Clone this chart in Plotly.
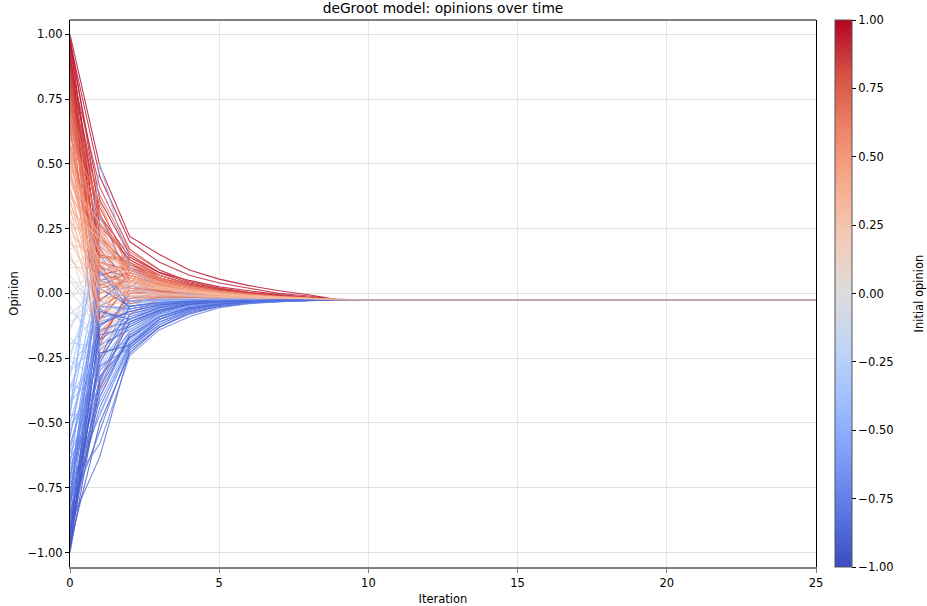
import plotly.graph_objects as go
from plotly.colors import sample_colorscale

iterations = list(range(26))
consensus = -0.025

# opinion of each agent for iterations 0..8 (afterwards all sit at the consensus value)
opinions = [
    [1.00, 0.49, 0.22, 0.15, 0.09, 0.055, 0.03, 0.01, -0.005],
    [0.97, 0.45, 0.20, 0.12, 0.07, 0.04, 0.02, 0.0, -0.01],
    [0.99, 0.30, 0.14, 0.08, 0.05, 0.025, 0.01, -0.005, -0.015],
    [0.95, 0.22, 0.10, 0.06, 0.03, 0.015, 0.0, -0.01, -0.017],
    [0.93, 0.05, 0.08, 0.04, 0.02, 0.005, -0.005, -0.013, -0.019],
    [0.91, 0.15, 0.12, 0.05, 0.025, 0.01, -0.003, -0.012, -0.018],
    [0.89, -0.10, 0.03, 0.01, 0.0, -0.008, -0.014, -0.018, -0.021],
    [0.87, 0.33, 0.11, 0.07, 0.035, 0.015, 0.0, -0.01, -0.017],
    [0.85, 0.10, 0.06, 0.03, 0.01, 0.0, -0.01, -0.016, -0.02],
    [0.83, -0.25, -0.02, 0.0, -0.008, -0.013, -0.017, -0.02, -0.022],
    [0.81, 0.20, 0.09, 0.05, 0.02, 0.005, -0.006, -0.014, -0.019],
    [0.79, 0.02, 0.05, 0.02, 0.005, -0.005, -0.012, -0.017, -0.021],
    [0.77, 0.27, 0.13, 0.06, 0.03, 0.012, 0.0, -0.01, -0.017],
    [0.75, -0.05, 0.01, 0.01, -0.002, -0.01, -0.015, -0.019, -0.022],
    [0.73, 0.12, 0.07, 0.03, 0.015, 0.002, -0.008, -0.015, -0.02],
    [0.71, 0.38, 0.16, 0.09, 0.045, 0.02, 0.004, -0.008, -0.016],
    [0.69, 0.08, 0.04, 0.02, 0.005, -0.005, -0.012, -0.017, -0.021],
    [0.67, -0.37, -0.08, -0.02, -0.02, -0.02, -0.022, -0.023, -0.024],
    [0.65, 0.18, 0.10, 0.04, 0.02, 0.005, -0.006, -0.014, -0.019],
    [0.63, 0.00, 0.06, 0.03, 0.01, -0.002, -0.01, -0.016, -0.02],
    [0.61, 0.25, 0.09, 0.04, 0.02, 0.004, -0.007, -0.014, -0.019],
    [0.59, 0.05, 0.02, 0.01, 0.0, -0.008, -0.013, -0.018, -0.021],
    [0.57, 0.14, 0.12, 0.06, 0.028, 0.01, -0.003, -0.012, -0.018],
    [0.55, -0.15, -0.03, -0.01, -0.012, -0.016, -0.019, -0.021, -0.023],
    [0.53, 0.30, 0.10, 0.05, 0.025, 0.008, -0.004, -0.013, -0.018],
    [0.51, 0.07, 0.04, 0.02, 0.006, -0.004, -0.011, -0.016, -0.02],
    [0.49, 0.21, 0.08, 0.035, 0.015, 0.0, -0.009, -0.015, -0.02],
    [0.47, -0.02, 0.00, 0.0, -0.006, -0.012, -0.016, -0.02, -0.022],
    [0.45, 0.11, 0.05, 0.025, 0.008, -0.003, -0.01, -0.016, -0.02],
    [0.43, 0.16, 0.09, 0.045, 0.02, 0.004, -0.006, -0.014, -0.019],
    [0.41, -0.08, 0.02, 0.005, -0.004, -0.011, -0.016, -0.019, -0.022],
    [0.39, 0.04, 0.03, 0.015, 0.003, -0.006, -0.012, -0.017, -0.021],
    [0.37, 0.23, 0.07, 0.03, 0.012, 0.0, -0.009, -0.015, -0.02],
    [0.35, 0.09, -0.01, -0.005, -0.01, -0.015, -0.018, -0.021, -0.023],
    [0.33, -0.12, 0.04, 0.02, 0.004, -0.006, -0.012, -0.017, -0.021],
    [0.31, 0.13, 0.06, 0.025, 0.01, -0.002, -0.01, -0.016, -0.02],
    [0.29, 0.01, 0.01, 0.0, -0.007, -0.013, -0.017, -0.02, -0.022],
    [0.27, 0.19, 0.02, 0.01, 0.0, -0.008, -0.013, -0.018, -0.021],
    [0.25, 0.06, 0.03, 0.012, 0.0, -0.008, -0.014, -0.018, -0.021],
    [0.22, -0.06, -0.02, -0.01, -0.013, -0.017, -0.02, -0.022, -0.023],
    [0.19, 0.15, 0.05, 0.02, 0.006, -0.005, -0.012, -0.017, -0.021],
    [0.16, -0.18, -0.06, -0.035, -0.03, -0.028, -0.027, -0.026, -0.025],
    [0.13, 0.03, 0.0, -0.005, -0.01, -0.015, -0.018, -0.021, -0.023],
    [0.10, 0.10, 0.04, 0.015, 0.002, -0.007, -0.013, -0.018, -0.021],
    [0.07, -0.09, -0.04, -0.025, -0.024, -0.025, -0.025, -0.025, -0.025],
    [0.04, 0.05, 0.01, -0.002, -0.01, -0.016, -0.019, -0.022, -0.023],
    [0.01, -0.14, -0.07, -0.04, -0.033, -0.03, -0.028, -0.027, -0.026],
    [-0.02, 0.08, 0.0, -0.008, -0.013, -0.017, -0.02, -0.022, -0.023],
    [-0.05, -0.22, -0.05, -0.03, -0.028, -0.027, -0.026, -0.026, -0.025],
    [-0.08, 0.02, -0.03, -0.02, -0.02, -0.022, -0.023, -0.024, -0.025],
    [-0.11, -0.04, -0.08, -0.045, -0.035, -0.031, -0.028, -0.027, -0.026],
    [-0.14, 0.12, -0.01, -0.012, -0.016, -0.019, -0.021, -0.023, -0.024],
    [-0.17, -0.28, -0.10, -0.06, -0.042, -0.034, -0.03, -0.028, -0.026],
    [-0.20, -0.07, -0.04, -0.03, -0.027, -0.026, -0.026, -0.025, -0.025],
    [-0.23, 0.06, -0.02, -0.018, -0.02, -0.022, -0.023, -0.024, -0.025],
    [-0.26, -0.33, -0.14, -0.08, -0.05, -0.038, -0.032, -0.029, -0.027],
    [-0.29, -0.12, -0.06, -0.04, -0.032, -0.029, -0.027, -0.026, -0.025],
    [-0.32, 0.20, 0.02, -0.005, -0.014, -0.019, -0.022, -0.024, -0.025],
    [-0.35, -0.40, -0.18, -0.10, -0.06, -0.042, -0.034, -0.03, -0.027],
    [-0.38, -0.03, -0.07, -0.045, -0.034, -0.03, -0.028, -0.026, -0.025],
    [-0.41, -0.20, -0.11, -0.06, -0.04, -0.033, -0.029, -0.027, -0.026],
    [-0.44, 0.30, 0.05, 0.0, -0.012, -0.018, -0.021, -0.023, -0.024],
    [-0.47, -0.46, -0.21, -0.12, -0.07, -0.047, -0.036, -0.031, -0.028],
    [-0.50, -0.10, -0.05, -0.035, -0.03, -0.028, -0.027, -0.026, -0.025],
    [-0.53, -0.26, -0.13, -0.07, -0.045, -0.035, -0.03, -0.027, -0.026],
    [-0.56, 0.08, -0.03, -0.025, -0.024, -0.025, -0.025, -0.025, -0.025],
    [-0.59, -0.15, -0.09, -0.05, -0.037, -0.031, -0.028, -0.027, -0.026],
    [-0.62, -0.35, -0.16, -0.09, -0.055, -0.04, -0.032, -0.028, -0.026],
    [-0.48, 0.50, 0.10, 0.02, -0.005, -0.015, -0.02, -0.023, -0.024],
    [-0.68, -0.22, -0.12, -0.065, -0.042, -0.034, -0.029, -0.027, -0.026],
    [-0.71, -0.05, -0.06, -0.04, -0.032, -0.029, -0.027, -0.026, -0.025],
    [-0.73, -0.30, -0.15, -0.08, -0.05, -0.037, -0.031, -0.028, -0.026],
    [-0.75, -0.58, -0.24, -0.14, -0.09, -0.055, -0.04, -0.032, -0.028],
    [-0.77, -0.18, -0.10, -0.055, -0.038, -0.031, -0.028, -0.026, -0.025],
    [-0.79, 0.15, -0.01, -0.02, -0.022, -0.024, -0.025, -0.025, -0.025],
    [-0.81, -0.38, -0.17, -0.09, -0.055, -0.04, -0.032, -0.028, -0.026],
    [-0.83, -0.09, -0.08, -0.05, -0.035, -0.03, -0.028, -0.026, -0.025],
    [-0.85, -0.44, -0.20, -0.11, -0.065, -0.045, -0.035, -0.03, -0.027],
    [-0.87, -0.25, -0.09, -0.06, -0.04, -0.033, -0.029, -0.027, -0.026],
    [-0.89, -0.63, -0.22, -0.13, -0.08, -0.05, -0.038, -0.031, -0.027],
    [-0.91, -0.14, -0.11, -0.06, -0.04, -0.032, -0.028, -0.026, -0.025],
    [-0.93, -0.32, -0.19, -0.10, -0.06, -0.042, -0.033, -0.029, -0.026],
    [-0.95, 0.02, -0.05, -0.035, -0.03, -0.028, -0.027, -0.026, -0.025],
    [-0.97, -0.50, -0.23, -0.13, -0.075, -0.05, -0.037, -0.031, -0.027],
    [-0.99, -0.20, -0.14, -0.075, -0.045, -0.035, -0.03, -0.027, -0.026],
    [-1.00, -0.36, -0.17, -0.10, -0.06, -0.042, -0.033, -0.028, -0.026],
    [0.98, 0.12, 0.09, 0.05, 0.025, 0.01, -0.004, -0.012, -0.018],
    [0.96, 0.36, 0.15, 0.08, 0.04, 0.02, 0.003, -0.008, -0.016],
    [0.94, -0.18, 0.00, 0.005, -0.005, -0.012, -0.016, -0.02, -0.022],
    [0.92, 0.26, 0.13, 0.07, 0.035, 0.015, 0.0, -0.01, -0.017],
    [0.90, 0.07, 0.10, 0.05, 0.022, 0.007, -0.005, -0.013, -0.019],
    [0.88, 0.41, 0.17, 0.09, 0.045, 0.02, 0.003, -0.008, -0.016],
    [0.86, 0.17, 0.04, 0.02, 0.008, -0.003, -0.011, -0.016, -0.02],
    [0.84, -0.03, 0.07, 0.035, 0.015, 0.002, -0.008, -0.015, -0.02],
    [0.82, 0.29, 0.12, 0.06, 0.03, 0.012, -0.002, -0.011, -0.017],
    [0.80, 0.11, -0.04, -0.015, -0.015, -0.018, -0.02, -0.022, -0.023],
    [0.78, 0.21, 0.11, 0.055, 0.027, 0.01, -0.003, -0.012, -0.018],
    [0.76, 0.03, 0.08, 0.04, 0.018, 0.004, -0.007, -0.014, -0.019],
    [0.74, 0.31, 0.05, 0.03, 0.012, 0.0, -0.009, -0.015, -0.02],
    [0.72, -0.20, 0.02, 0.01, -0.002, -0.01, -0.015, -0.019, -0.022],
    [0.70, 0.14, 0.14, 0.07, 0.033, 0.013, -0.001, -0.011, -0.017],
    [0.66, 0.24, 0.06, 0.03, 0.012, 0.0, -0.009, -0.015, -0.02],
    [0.64, -0.10, 0.09, 0.045, 0.02, 0.005, -0.006, -0.014, -0.019],
    [0.60, 0.35, 0.08, 0.04, 0.018, 0.003, -0.007, -0.014, -0.019],
    [0.56, 0.09, 0.11, 0.055, 0.025, 0.008, -0.004, -0.013, -0.018],
    [0.52, 0.18, -0.02, -0.008, -0.012, -0.016, -0.019, -0.021, -0.023],
    [0.48, 0.02, 0.06, 0.03, 0.012, 0.0, -0.009, -0.015, -0.02],
    [0.44, 0.27, 0.03, 0.015, 0.003, -0.006, -0.012, -0.017, -0.021],
    [0.40, 0.12, 0.08, 0.04, 0.016, 0.002, -0.008, -0.015, -0.02],
    [0.36, -0.05, 0.05, 0.025, 0.008, -0.003, -0.01, -0.016, -0.02],
    [0.32, 0.21, 0.04, 0.02, 0.005, -0.005, -0.012, -0.017, -0.021],
    [0.28, -0.16, -0.03, -0.015, -0.016, -0.019, -0.021, -0.023, -0.024],
    [0.23, 0.11, 0.02, 0.005, -0.004, -0.011, -0.016, -0.019, -0.022],
    [0.20, 0.00, 0.03, 0.01, -0.002, -0.01, -0.015, -0.019, -0.022],
    [0.17, 0.22, 0.06, 0.02, 0.005, -0.005, -0.012, -0.017, -0.021],
    [0.14, -0.03, -0.01, -0.01, -0.014, -0.018, -0.02, -0.022, -0.024],
    [0.11, 0.17, 0.01, -0.003, -0.01, -0.016, -0.019, -0.022, -0.023],
    [0.05, -0.11, -0.02, -0.02, -0.022, -0.024, -0.025, -0.025, -0.025],
    [-0.01, 0.13, 0.03, 0.005, -0.007, -0.014, -0.018, -0.021, -0.023],
    [-0.07, -0.16, -0.06, -0.04, -0.032, -0.029, -0.027, -0.026, -0.025],
    [-0.13, 0.04, -0.04, -0.03, -0.027, -0.026, -0.026, -0.025, -0.025],
    [-0.19, -0.21, -0.09, -0.055, -0.04, -0.032, -0.029, -0.027, -0.026],
    [-0.25, 0.14, 0.01, -0.008, -0.015, -0.02, -0.022, -0.024, -0.025],
    [-0.30, -0.19, -0.05, -0.035, -0.03, -0.028, -0.027, -0.026, -0.025],
    [-0.36, -0.08, -0.09, -0.05, -0.036, -0.031, -0.028, -0.026, -0.025],
    [-0.42, -0.29, -0.12, -0.07, -0.045, -0.035, -0.03, -0.027, -0.026],
    [-0.46, 0.10, -0.04, -0.03, -0.027, -0.026, -0.026, -0.025, -0.025],
    [-0.51, -0.37, -0.15, -0.085, -0.052, -0.038, -0.031, -0.028, -0.026],
    [-0.55, -0.02, 0.03, -0.005, -0.014, -0.019, -0.022, -0.024, -0.025],
    [-0.58, -0.24, -0.18, -0.09, -0.055, -0.04, -0.032, -0.028, -0.026],
    [-0.61, -0.11, -0.07, -0.045, -0.034, -0.03, -0.028, -0.026, -0.025],
    [-0.64, -0.42, -0.19, -0.10, -0.06, -0.042, -0.033, -0.029, -0.026],
    [-0.66, 0.05, -0.05, -0.035, -0.03, -0.028, -0.027, -0.026, -0.025],
    [-0.70, -0.28, -0.21, -0.11, -0.065, -0.045, -0.035, -0.03, -0.027],
    [-0.72, -0.13, -0.03, -0.025, -0.024, -0.025, -0.025, -0.025, -0.025],
    [-0.74, -0.47, -0.20, -0.11, -0.068, -0.046, -0.035, -0.03, -0.027],
    [-0.78, -0.06, -0.12, -0.065, -0.042, -0.033, -0.029, -0.027, -0.026],
    [-0.80, -0.33, -0.08, -0.05, -0.036, -0.031, -0.028, -0.026, -0.025],
    [-0.82, 0.09, -0.06, -0.04, -0.032, -0.029, -0.027, -0.026, -0.025],
    [-0.84, -0.53, -0.21, -0.12, -0.07, -0.047, -0.036, -0.031, -0.027],
    [-0.86, -0.16, -0.13, -0.07, -0.044, -0.034, -0.029, -0.027, -0.026],
    [-0.88, -0.27, -0.05, -0.035, -0.03, -0.028, -0.027, -0.026, -0.025],
    [-0.90, -0.40, -0.16, -0.09, -0.055, -0.04, -0.032, -0.028, -0.026],
    [-0.92, -0.07, -0.10, -0.055, -0.038, -0.031, -0.028, -0.026, -0.025],
    [-0.94, -0.23, -0.20, -0.10, -0.06, -0.042, -0.033, -0.029, -0.026],
    [-0.96, -0.34, -0.11, -0.065, -0.042, -0.033, -0.029, -0.027, -0.026],
    [-0.98, -0.12, -0.07, -0.045, -0.034, -0.03, -0.028, -0.026, -0.025],
]

cbar_ticks = [1.0, 0.75, 0.5, 0.25, 0.0, -0.25, -0.5, -0.75, -1.0]
cbar_labels = ["1.00", "0.75", "0.50", "0.25", "0.00", "\u22120.25", "\u22120.50", "\u22120.75", "\u22121.00"]
y_ticks = cbar_ticks
y_labels = cbar_labels
x_ticks = [0, 5, 10, 15, 20, 25]

coolwarm_hex = ['#3b4cc0', '#5977e3', '#7b9ff9', '#9ebeff', '#c0d4f5', '#dddcdc',
                '#f2cbb7', '#f7ac8e', '#ee8468', '#d65244', '#b40426']
coolwarm = [[i / 10, c] for i, c in enumerate(coolwarm_hex)]

FONT = "DejaVu Sans"
fig = go.Figure()

n = len(opinions)
order = [(i * 37) % n for i in range(n)]
if len(set(order)) != n:
    order = list(range(n))
for idx in order:
    row = opinions[idx]
    ys = row + [consensus] * (len(iterations) - len(row))
    t = (row[0] + 1) / 2
    col = sample_colorscale(coolwarm, [t], colortype="rgb")[0]
    rgba = col.replace("rgb(", "rgba(").replace(")", ",0.8)")
    fig.add_trace(go.Scatter(x=iterations, y=ys, mode="lines",
                             line=dict(color=rgba, width=1.1),
                             hoverinfo="skip", showlegend=False))

# colorbar carrier
fig.add_trace(go.Scatter(
    x=[0, 0], y=[0, 0], mode="markers", showlegend=False, hoverinfo="skip",
    marker=dict(size=0.001, opacity=0, color=[-1, 1], cmin=-1, cmax=1,
                colorscale=coolwarm, showscale=True,
                colorbar=dict(
                    x=(835 - 70) / 746, xanchor="left", xpad=0,
                    y=0.5, yanchor="middle", len=1, lenmode="fraction", ypad=0,
                    thickness=17, outlinewidth=1, outlinecolor="#555555",
                    tickvals=cbar_ticks, ticktext=cbar_labels,
                    ticks="outside", ticklen=4, tickcolor="black",
                    tickfont=dict(family=FONT, size=11.5, color="black"),
                ))))

fig.add_annotation(text="Initial opinion", xref="paper", yref="paper",
                   x=(918 - 70) / 746, y=0.5, xanchor="center", yanchor="middle",
                   textangle=-90, showarrow=False,
                   font=dict(family=FONT, size=11.5, color="black"))

fig.add_shape(type="line", xref="paper", yref="paper", x0=0, x1=1, y0=1, y1=1,
              line=dict(color="black", width=1))

fig.update_layout(
    width=927, height=606,
    margin=dict(l=70, r=111, t=20, b=39, autoexpand=False),
    paper_bgcolor="white", plot_bgcolor="white",
    title=dict(text="deGroot model: opinions over time", x=0.5, xref="paper",
               y=1 - 8 / 606, yref="container", yanchor="middle",
               font=dict(family=FONT, size=13.8, color="black")),
    xaxis=dict(range=[0, 25], tickvals=x_ticks, ticks="outside", ticklen=4,
               tickcolor="#808080", showgrid=True, gridcolor="#e6e6e6", gridwidth=1,
               zeroline=False, showline=True, linecolor="#808080", linewidth=2,
               automargin=False,
               tickfont=dict(family=FONT, size=11.5, color="black"),
               title=dict(text="Iteration", standoff=6,
                          font=dict(family=FONT, size=11.5, color="black"))),
    yaxis=dict(range=[-1.056, 1.055], tickvals=y_ticks, ticktext=y_labels,
               ticks="outside", ticklen=4, tickcolor="black",
               showgrid=True, gridcolor="#e0e0e0", gridwidth=1, zeroline=False,
               showline=True, linecolor="black", linewidth=1, mirror=True,
               automargin=False,
               tickfont=dict(family=FONT, size=11.5, color="black"),
               title=dict(text="Opinion", standoff=6,
                          font=dict(family=FONT, size=11.5, color="black"))),
)

fig.write_html("out.html")
